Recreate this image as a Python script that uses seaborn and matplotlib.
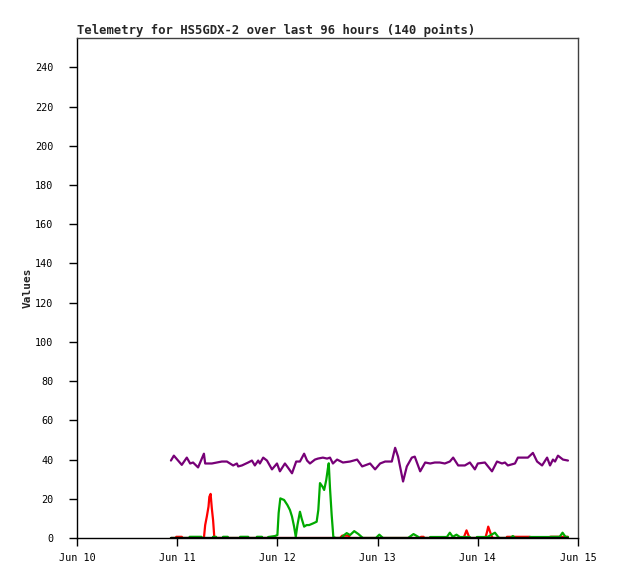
import matplotlib
matplotlib.use("Agg")
import matplotlib.pyplot as plt
import matplotlib.dates as mdates
import seaborn as sns
import pandas as pd

# hours since Jun 10 00:00
purple_h = [22.5, 23.2, 25.1, 26.3, 27.1, 27.8, 29.0, 30.4, 30.7, 32.3, 34.7, 35.9, 37.4, 38.3, 38.6,
            39.5, 41.0, 41.9, 42.6, 43.4, 43.8, 44.6, 45.5, 46.7, 47.9, 48.6, 49.8, 50.5, 51.5, 52.5,
            53.4, 54.4, 55.1, 55.8, 57.0, 57.7, 58.9, 59.9, 60.6, 61.3, 62.3, 63.7, 65.4, 67.1, 68.3,
            70.2, 71.4, 72.6, 73.8, 75.4, 76.2, 76.9, 78.1, 79.0, 80.2, 80.9, 82.2, 83.4, 84.6, 85.7,
            86.9, 88.1, 89.3, 90.1, 91.3, 92.9, 94.1, 95.3, 96.0, 97.7, 99.4, 100.6, 101.8, 102.5, 103.2,
            104.9, 105.6, 107.3, 108.0, 109.2, 110.2, 111.4, 112.6, 113.3, 114.0, 114.5, 115.2, 116.4, 117.6]
purple_v = [39.5, 42, 37.3, 41, 38, 38.5, 36, 43, 38, 38, 39, 39, 37, 38, 36.5,
            37, 38.5, 39.5, 37, 39.5, 38, 41, 39.5, 35, 38, 34, 38, 36, 33, 39,
            39, 43, 39.5, 38, 40, 40.5, 41, 40.5, 41, 38, 40, 38.5, 39, 40, 36.5,
            38, 35, 38, 39, 39, 46, 41.5, 28.8, 36.5, 41, 41.5, 34, 38.5, 38, 38.5,
            38.5, 38, 39, 41, 37, 37, 38.5, 35, 38, 38.5, 34, 39, 38, 38.5, 37,
            38, 41, 41, 41, 43.4, 39, 37, 41, 37, 40, 39, 42, 40, 39.5]

red_h = [22.5, 23.6, 23.8, 25.1, 25.3, 30.4, 30.7, 31.1, 31.5, 31.7, 32.0, 32.3, 32.6, 32.9,
         63.0, 63.5, 65.0, 65.4, 82.1, 82.4, 83.0, 83.2, 92.6, 93.3, 94.0,
         97.8, 98.2, 98.5, 98.9, 99.3, 99.6, 102.9, 103.0, 108.5, 108.6, 113.2, 113.3, 117.6]
red_v = [0, 0, 0.6, 0.6, 0, 0, 6.6, 11, 16, 21, 22.5, 15, 9, 0,
         0, 1.2, 1.2, 0, 0, 0.6, 0.6, 0, 0, 3.9, 0,
         0, 3, 5.8, 3.4, 1, 0, 0, 0.6, 0.6, 0, 0, 0.6, 0.6]

green_h = [22.5, 26.9, 27.0, 29.8, 30.0, 32.5, 32.6, 33.3, 33.4, 34.9, 35.0, 36.1, 36.2,
           39.0, 39.1, 41.0, 41.1, 43.0, 43.1, 44.3, 44.4,
           45.6, 45.8, 47.4, 48.0, 48.3, 48.7, 49.6, 50.4, 51.0, 51.5, 52.0, 52.4, 52.8, 53.4, 53.8,
           54.4, 55.0, 55.6, 56.6, 57.4, 57.8, 58.2, 58.8, 59.2, 59.7, 60.1, 60.3, 60.6, 61.0, 61.4, 62.0,
           63.3, 63.7, 64.6, 65.4, 66.4, 67.4, 68.2, 68.5,
           71.6, 72.4, 73.3, 79.3, 80.6, 82.2,
           84.5, 84.6, 88.6, 89.3, 90.0, 90.9, 91.7, 94.1, 94.3,
           95.7, 95.8, 97.7, 98.4, 100.1, 100.9, 101.2,
           103.8, 104.4, 105.0, 108.4, 108.5, 113.3, 113.5, 115.6, 116.3, 117.0, 117.6]
green_v = [0, 0, 0.6, 0.6, 0, 0, 0.6, 0.6, 0, 0, 0.6, 0.6, 0,
           0, 0.6, 0.6, 0, 0, 0.6, 0.6, 0,
           0, 0.5, 1, 1.5, 12.8, 20.2, 19.4, 16.8, 14.3, 10.9, 5.8, 0.6, 6.6, 13.4, 10,
           5.8, 6.6, 6.6, 7.5, 8.3, 14.3, 28, 26.2, 24.5, 29.6, 35.6, 38.1, 25.4, 11.7, 0.5, 0,
           0, 1, 2.5, 1.5, 3.5, 2, 0.5, 0,
           0, 1.7, 0, 0, 2, 0,
           0, 0.5, 0.5, 2.7, 0.6, 1.7, 0.5, 0.5, 0,
           0, 0.5, 0.5, 0.6, 2.7, 0.5, 0,
           0, 1, 0, 0, 0.5, 0.5, 0.6, 0.6, 2.7, 0.6, 0.5]

black_h = [22.5, 117.6]
black_v = [0, 0]

y_ticks = list(range(0, 241, 20))
title = "Telemetry for HS5GDX-2 over last 96 hours (140 points)"

base = pd.Timestamp("2024-06-10")


def frame(h, v):
    return pd.DataFrame({"t": base + pd.to_timedelta(h, unit="h"), "v": v})


sns.set_style("white")
plt.rcParams["font.family"] = ["DejaVu Sans Mono", "DejaVu Sans"]

fig = plt.figure(figsize=(6.18, 5.79), dpi=100)
ax = fig.add_axes([77 / 618, 1 - 538 / 579, (578 - 77) / 618, (538 - 38) / 579])

lw = 1.6
sns.lineplot(data=frame(red_h, red_v), x="t", y="v", color="#ff0000", lw=lw, ax=ax, zorder=2)
sns.lineplot(data=frame(green_h, green_v), x="t", y="v", color="#00aa00", lw=lw, ax=ax, zorder=3)
sns.lineplot(data=frame(black_h, black_v), x="t", y="v", color="#000000", lw=lw, ax=ax, zorder=4)
sns.lineplot(data=frame(purple_h, purple_v), x="t", y="v", color="#770077", lw=lw, ax=ax, zorder=5)

ax.set_xlim(base, base + pd.Timedelta(days=5))
ax.set_ylim(0, 255)
ax.set_yticks(y_ticks)
ax.xaxis.set_major_locator(mdates.DayLocator())
ax.xaxis.set_major_formatter(mdates.DateFormatter("%b %d"))

ax.set_xlabel("")
ax.set_ylabel("Values", fontsize=8, fontweight="bold", labelpad=2)
ax.set_title(title, loc="left", fontsize=8.8, fontweight="bold", pad=3)

ax.tick_params(axis="y", direction="out", length=6, width=1, pad=11, labelsize=7.3, colors="black")
ax.tick_params(axis="x", direction="out", length=6, width=1, pad=5, labelsize=7.3, colors="black")
ax.tick_params(left=True, bottom=True)

for s in ["left", "bottom"]:
    ax.spines[s].set_color("black")
    ax.spines[s].set_linewidth(1)
for s in ["top", "right"]:
    ax.spines[s].set_color("#404040")
    ax.spines[s].set_linewidth(1)

fig.savefig("out.png", dpi=100)
